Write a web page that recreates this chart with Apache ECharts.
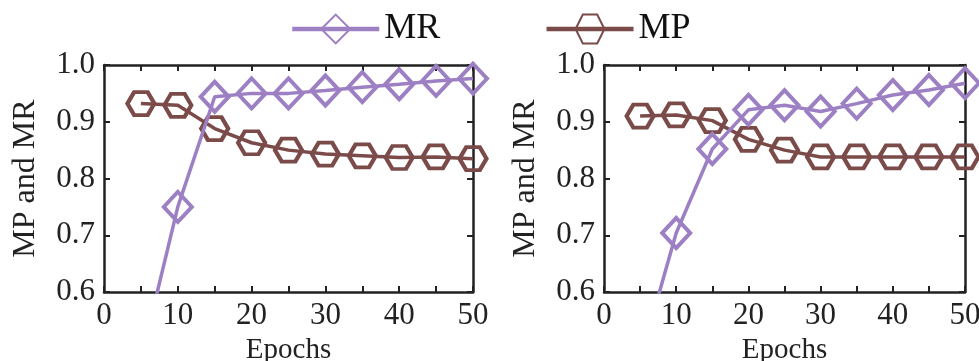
<!DOCTYPE html>
<html>
<head>
<meta charset="utf-8">
<script src="https://cdn.jsdelivr.net/npm/echarts@6/dist/echarts.min.js"></script>
<style>
  html, body { margin: 0; padding: 0; background: #fff; }
  #chart { width: 979px; height: 361px; }
</style>
</head>
<body>
<div id="chart"></div>
<script>
const epochs = [5, 10, 15, 20, 25, 30, 35, 40, 45, 50];
// left panel
const mrLeft = [0.48, 0.75, 0.944, 0.95, 0.95, 0.955, 0.961, 0.966, 0.972, 0.976];
const mpLeft = [0.932, 0.929, 0.888, 0.863, 0.85, 0.843, 0.84, 0.837, 0.838, 0.835];
// right panel
const mrRight = [0.48, 0.704, 0.852, 0.921, 0.929, 0.918, 0.932, 0.947, 0.956, 0.968];
const mpRight = [0.91, 0.912, 0.902, 0.869, 0.85, 0.838, 0.838, 0.838, 0.838, 0.838];

const MR_COLOR = '#9c80c3';
const MP_COLOR = '#7b4b4a';
const AXIS = '#222';
const FONT = '"Liberation Serif", "DejaVu Serif", serif';
const HEX = 'path://M0,8.66 L5,0 L15,0 L20,8.66 L15,17.32 L5,17.32 Z';

const chart = echarts.init(document.getElementById('chart'));

const pairs = (ys) => epochs.map((x, i) => [x, ys[i]]);

function xAxes(gi) {
  const base = {
    gridIndex: gi, type: 'value', min: 0, max: 50, interval: 10,
    axisLine: { show: true, onZero: false, lineStyle: { color: AXIS, width: 2.5 } },
    axisTick: { show: true, inside: true, length: 6, lineStyle: { color: AXIS, width: 2 } },
    minorTick: { show: true, splitNumber: 2, length: 6, lineStyle: { color: AXIS, width: 2 } },
    splitLine: { show: false }
  };
  return [
    Object.assign({}, base, {
      position: 'bottom',
      name: 'Epochs', nameLocation: 'middle', nameGap: 42,
      nameTextStyle: { fontFamily: FONT, fontSize: 29, color: AXIS },
      axisLabel: { fontFamily: FONT, fontSize: 31, color: AXIS, margin: 8 }
    }),
    Object.assign({}, base, { position: 'top', axisLabel: { show: false } })
  ];
}

function yAxes(gi) {
  const base = {
    gridIndex: gi, type: 'value', min: 0.6, max: 1.0, interval: 0.1,
    axisLine: { show: true, onZero: false, lineStyle: { color: AXIS, width: 2.5 } },
    axisTick: { show: true, inside: true, length: 6, lineStyle: { color: AXIS, width: 2 } },
    splitLine: { show: false }
  };
  return [
    Object.assign({}, base, {
      position: 'left',
      name: 'MP and MR', nameLocation: 'middle', nameGap: 62,
      nameTextStyle: { fontFamily: FONT, fontSize: 32, color: AXIS },
      axisLabel: { fontFamily: FONT, fontSize: 31, color: AXIS, margin: 9, formatter: v => v.toFixed(1) }
    }),
    Object.assign({}, base, { position: 'right', axisLabel: { show: false } })
  ];
}

function mrSeries(data, gi) {
  return {
    name: 'MR', type: 'line', xAxisIndex: gi * 2, yAxisIndex: gi * 2,
    data: pairs(data), clip: true,
    symbol: 'diamond', symbolSize: [28, 30],
    lineStyle: { color: MR_COLOR, width: 3.5 },
    itemStyle: { color: 'rgba(255,255,255,0)', borderColor: MR_COLOR, borderWidth: 4 },
    z: 3
  };
}
function mpSeries(data, gi) {
  return {
    name: 'MP', type: 'line', xAxisIndex: gi * 2, yAxisIndex: gi * 2,
    data: pairs(data), clip: true,
    symbol: HEX, symbolSize: [27, 23],
    lineStyle: { color: MP_COLOR, width: 3.5 },
    itemStyle: { color: 'rgba(255,255,255,0)', borderColor: MP_COLOR, borderWidth: 4 },
    z: 2
  };
}

chart.setOption({
  animation: false,
  textStyle: { fontFamily: FONT },
  legend: {
    data: ['MR', 'MP'],
    left: 285, top: 6,
    itemWidth: 87, itemHeight: 36, itemGap: 104,
    lineStyle: { width: 4.5 },
    textStyle: { fontFamily: FONT, fontSize: 36, color: '#111' }
  },
  grid: [
    { left: 104, right: 506, top: 65, bottom: 69, outerBoundsMode: 'none', containLabel: false },
    { left: 604, right: 14, top: 65, bottom: 69, outerBoundsMode: 'none', containLabel: false }
  ],
  xAxis: [...xAxes(0), ...xAxes(1)],
  yAxis: [...yAxes(0), ...yAxes(1)],
  series: [
    mrSeries(mrLeft, 0), mpSeries(mpLeft, 0),
    mrSeries(mrRight, 1), mpSeries(mpRight, 1)
  ]
});
</script>
</body>
</html>
